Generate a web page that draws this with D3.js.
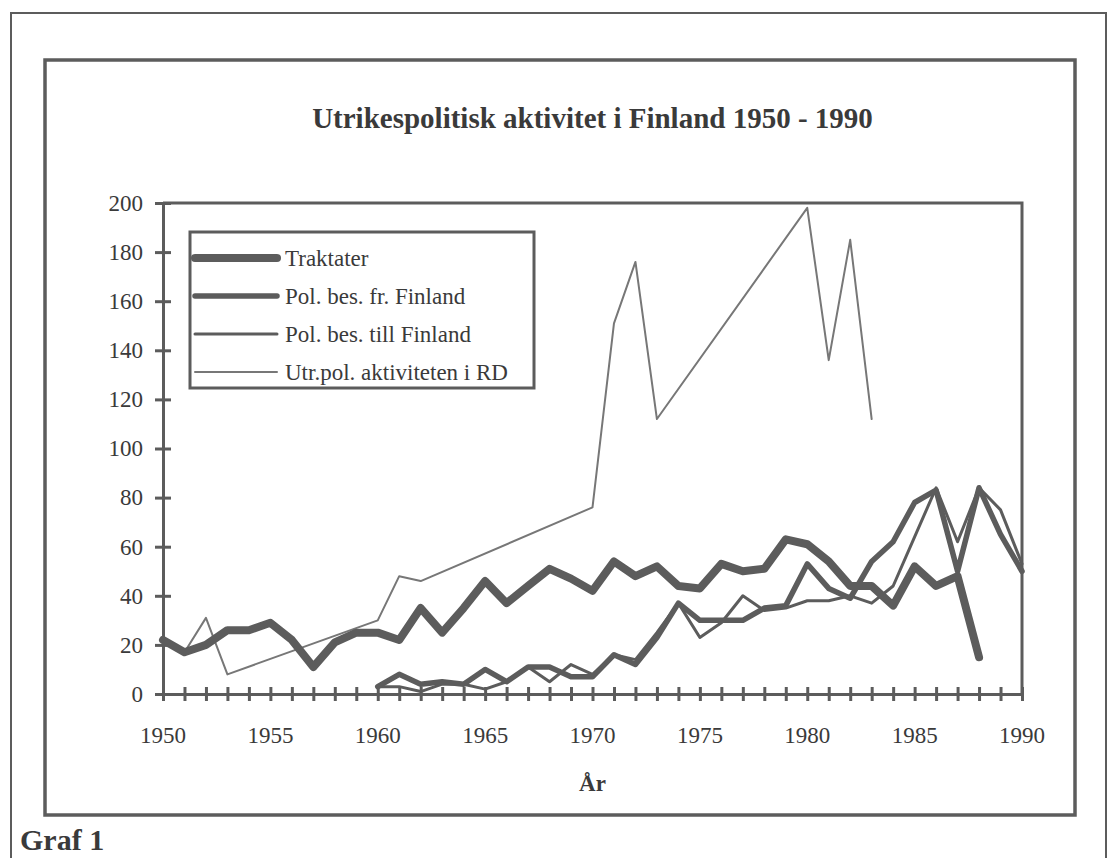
<!DOCTYPE html>
<html>
<head>
<meta charset="utf-8">
<script src="https://cdn.jsdelivr.net/npm/d3@7"></script>
<style>
  body { margin: 0; background: #fff; }
  svg { display: block; }
  text { font-family: "Liberation Serif", "DejaVu Serif", serif; fill: #3a3a3a; }
</style>
</head>
<body>
<script>
// values
const years = d3.range(1950, 1991)
const yTicks = [0, 20, 40, 60, 80, 100, 120, 140, 160, 180, 200]
const xLabels = [1950, 1955, 1960, 1965, 1970, 1975, 1980, 1985, 1990]

const traktater = [22, 17, 20, 26, 26, 29, 22, 11, 21, 25,
                   25, 22, 35, 25, 35, 46, 37, 44, 51, 47,
                   42, 54, 48, 52, 44, 43, 53, 50, 51, 63,
                   61, 54, 44, 44, 36, 52, 44, 48, 15, null, null]
const polFr = [null, null, null, null, null, null, null, null, null, null,
               3, 8, 4, 5, 4, 10, 5, 11, 11, 7,
               7, 16, 12, 23, 37, 30, 30, 30, 35, 36,
               53, 43, 39, 54, 62, 78, 83, 50, 84, 65, 50]
const polTill = [null, null, null, null, null, null, null, null, null, null,
                 3, 3, 1, 4, 4, 2, 5, 11, 5, 12,
                 8, 16, 14, 25, 37, 23, 29, 40, 34, 35,
                 38, 38, 40, 37, 44, 64, 84, 62, 84, 75, 53]
// RD only has values at the corners of the line
const rd = [23, 17, 31, 8, null, null, null, null, null, null,
            30, 48, 46, null, null, null, null, null, null, null,
            76, 151, 176, 112, null, null, null, null, null, null,
            198, 136, 185, 112, null, null, null, null, null, null, null]

const series = [
    { name: "Traktater", values: traktater, width: 8 },
    { name: "Pol. bes. fr. Finland", values: polFr, width: 5.5 },
    { name: "Pol. bes. till Finland", values: polTill, width: 3 },
    { name: "Utr.pol. aktiviteten i RD", values: rd, width: 2, color: "#777" }
]

const W = 1109, H = 858
const gray = "#5c5c5c"
const pLeft = 163, pRight = 1022, pTop = 203, pBottom = 694

const svg = d3.select("body").append("svg")
    .attr("width", W)
    .attr("height", H)

// outer and inner frames
svg.append("path")
    .attr("d", `M11,${H} V13 H1106 V${H}`)
    .attr("fill", "none").attr("stroke", gray).attr("stroke-width", 2)
svg.append("rect")
    .attr("x", 45).attr("y", 60).attr("width", 1030).attr("height", 755)
    .attr("fill", "none").attr("stroke", gray).attr("stroke-width", 3.5)

svg.append("text")
    .attr("x", (pLeft + pRight) / 2).attr("y", 128)
    .attr("text-anchor", "middle")
    .attr("font-size", 29).attr("font-weight", "bold")
    .text("Utrikespolitisk aktivitet i Finland 1950 - 1990")

const x = d3.scaleLinear().domain([1950, 1990]).range([pLeft, pRight])
const y = d3.scaleLinear().domain([0, 200]).range([pBottom, pTop])

// plot frame top/right
svg.append("path")
    .attr("d", `M${pLeft},${pTop} H${pRight} V${pBottom}`)
    .attr("fill", "none").attr("stroke", gray).attr("stroke-width", 3)

const xAxis = d3.axisBottom(x).tickValues(years).tickSize(7).tickFormat("")
const gx = svg.append("g").attr("transform", `translate(0,${pBottom})`).call(xAxis)
gx.select(".domain").attr("stroke", gray).attr("stroke-width", 3)
gx.selectAll(".tick line").attr("stroke", gray).attr("stroke-width", 3).attr("y1", -7)

svg.selectAll(".xlab")
    .data(xLabels)
    .enter()
    .append("text")
    .attr("class", "xlab")
    .attr("x", d => x(d)).attr("y", 743)
    .attr("text-anchor", "middle")
    .attr("font-size", 23)
    .text(d => d)

const yAxis = d3.axisLeft(y).tickValues(yTicks).tickSize(8).tickPadding(12)
const gy = svg.append("g").attr("transform", `translate(${pLeft},0)`).call(yAxis)
gy.select(".domain").attr("stroke", gray).attr("stroke-width", 3)
gy.selectAll(".tick line").attr("stroke", gray).attr("stroke-width", 3).attr("x2", 8).attr("x1", -8)
gy.selectAll(".tick text")
    .attr("font-size", 23)
    .attr("font-family", "Liberation Serif")
    .attr("fill", "#3a3a3a")

svg.append("text")
    .attr("x", (pLeft + pRight) / 2).attr("y", 791)
    .attr("text-anchor", "middle")
    .attr("font-size", 23).attr("font-weight", "bold")
    .text("År")

svg.append("text")
    .attr("x", 20).attr("y", 850)
    .attr("font-size", 30).attr("font-weight", "bold")
    .text("Graf 1")

const line = d3.line()
    .x(d => x(d.year))
    .y(d => y(d.v))

// draw thin ones first so the thick ones sit on top
series.slice().reverse().forEach(s => {
    const pts = years.map((yr, i) => ({ year: yr, v: s.values[i] })).filter(d => d.v != null)
    svg.append("path")
        .datum(pts)
        .attr("d", line)
        .attr("fill", "none")
        .attr("stroke", s.color || gray)
        .attr("stroke-width", s.width)
        .attr("stroke-linejoin", "round")
        .attr("stroke-linecap", "round")
})

// legend
const lg = svg.append("g")
lg.append("rect")
    .attr("x", 190).attr("y", 232).attr("width", 344).attr("height", 156)
    .attr("fill", "#fff").attr("stroke", gray).attr("stroke-width", 3)

series.forEach((s, i) => {
    const ly = 258 + i * 38
    lg.append("line")
        .attr("x1", 195).attr("x2", 277)
        .attr("y1", ly).attr("y2", ly)
        .attr("stroke", s.color || gray)
        .attr("stroke-width", s.width)
        .attr("stroke-linecap", "round")
    lg.append("text")
        .attr("x", 285).attr("y", ly + 8)
        .attr("font-size", 23)
        .text(s.name)
})
</script>
</body>
</html>
